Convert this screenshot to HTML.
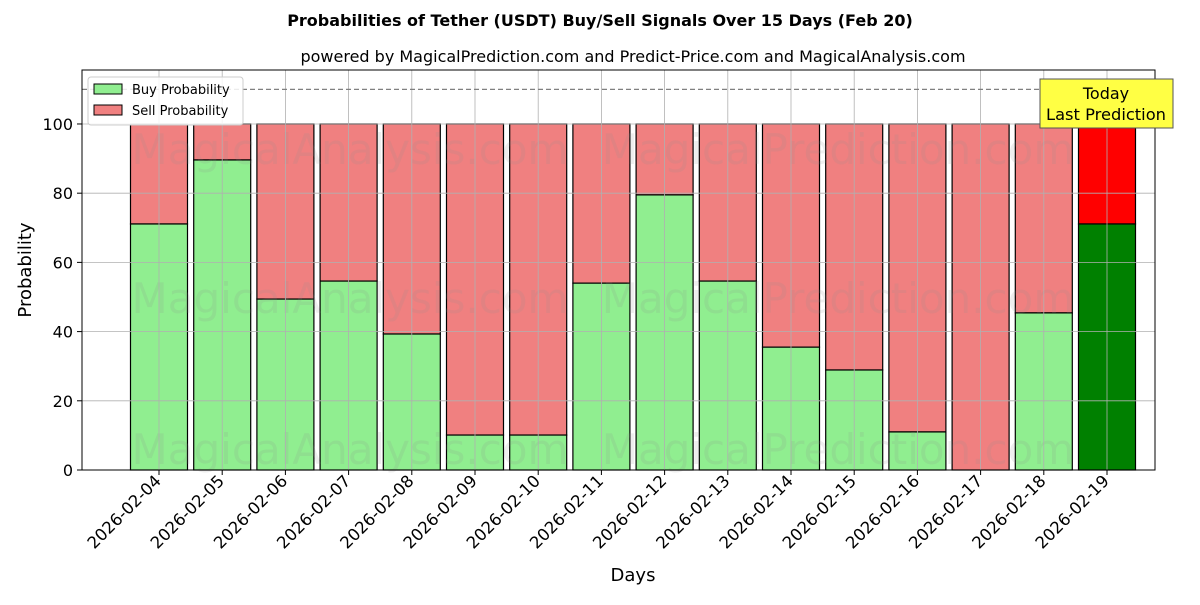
<!DOCTYPE html>
<html><head><meta charset="utf-8"><style>
body{margin:0;background:#fff;font-family:"Liberation Sans","DejaVu Sans",sans-serif;}
</style></head><body>
<svg id="chart" width="1200" height="600" xmlns="http://www.w3.org/2000/svg" font-family="DejaVu Sans, Liberation Sans, sans-serif">
<text x="600" y="26" text-anchor="middle" font-size="16" font-weight="bold">Probabilities of Tether (USDT) Buy/Sell Signals Over 15 Days (Feb 20)</text>
<text x="633" y="62" text-anchor="middle" font-size="16">powered by MagicalPrediction.com and Predict-Price.com and MagicalAnalysis.com</text>
<g id="plot"></g>
<text x="633" y="581" text-anchor="middle" font-size="18">Days</text>
<text transform="translate(31,270) rotate(-90)" text-anchor="middle" font-size="18">Probability</text>
</svg>
<script>
const categories=["2026-02-04","2026-02-05","2026-02-06","2026-02-07","2026-02-08","2026-02-09","2026-02-10","2026-02-11","2026-02-12","2026-02-13","2026-02-14","2026-02-15","2026-02-16","2026-02-17","2026-02-18","2026-02-19"];
const buyValues=[71.1,89.6,49.4,54.6,39.3,10.1,10.1,54.0,79.5,54.6,35.5,28.9,11.0,0,45.4,71.1];
const yTicks=[0,20,40,60,80,100];
const thresholdValue=110;
const NS="http://www.w3.org/2000/svg";
const L=82,R=1155,T=70,B=470;
const yMax=115.6;
const y=v=>B-v/yMax*(B-T);
const step=63.2, first=159, bw=57;
const x=i=>first+i*step;
const g=document.getElementById('plot');
function mk(tag,attrs,parent){const e=document.createElementNS(NS,tag);for(const k in attrs)e.setAttribute(k,attrs[k]);(parent||g).appendChild(e);return e;}
// bars
categories.forEach((c,i)=>{
 const last=i===categories.length-1;
 const b=buyValues[i];
 const s=mk('rect',{x:x(i)-bw/2,y:y(100),width:bw,height:y(b)-y(100),fill:last?'#ff0000':'#f08080',stroke:'#000','stroke-width':1.2});
 
 
 const r=mk('rect',{x:x(i)-bw/2,y:y(b),width:bw,height:y(0)-y(b),fill:last?'#008000':'#90ee90',stroke:'#000','stroke-width':1.2});
 
 
});
// watermarks
[[150,"MagicalAnalysis.com",350],[150,"MagicalPrediction.com",838],[299,"MagicalAnalysis.com",350],[299,"MagicalPrediction.com",838],[450,"MagicalAnalysis.com",350],[450,"MagicalPrediction.com",838]].forEach(w=>{
 const t=mk('text',{x:w[2],y:w[0]+14,'text-anchor':'middle','font-size':42,fill:'rgba(140,140,140,0.15)'});
 
 
 t.textContent=w[1];
});
// grid
yTicks.forEach(v=>{
 const l=mk('line',{x1:L,x2:R,y1:y(v),y2:y(v),stroke:'#b0b0b0','stroke-width':0.8});
 
 
 const tk=mk('line',{x1:L-5,x2:L,y1:y(v),y2:y(v),stroke:'#000'});
 
 
 const t=mk('text',{x:L-9,y:y(v)+6,'text-anchor':'end','font-size':16});
 
 
 t.textContent=v;
});
categories.forEach((c,i)=>{
 const l=mk('line',{x1:x(i),x2:x(i),y1:T,y2:B,stroke:'#b0b0b0','stroke-width':0.8});
 
 
 const tk=mk('line',{x1:x(i),x2:x(i),y1:B,y2:B+5,stroke:'#000'});
 
 
 const t=mk('text',{transform:`translate(${x(i)+3},${B+12}) rotate(-45)`,'text-anchor':'end','font-size':16.5});
 
 
 t.textContent=c;
});
const th=mk('line',{x1:L,x2:R,y1:y(thresholdValue),y2:y(thresholdValue),stroke:'#808080','stroke-width':1.2,'stroke-dasharray':'5,3'});


const fr=mk('rect',{x:L,y:T,width:R-L,height:B-T,fill:'none',stroke:'#000','stroke-width':1});


// today annotation
const ann=mk('g',{});


mk('rect',{x:1040,y:79,width:133,height:49,fill:'#ffff44',stroke:'#555','stroke-width':1},ann);
const a1=mk('text',{x:1106,y:99,'text-anchor':'middle','font-size':16},ann);a1.textContent='Today';
const a2=mk('text',{x:1106,y:120,'text-anchor':'middle','font-size':16,textLength:120,lengthAdjust:'spacingAndGlyphs'},ann);a2.textContent='Last Prediction';
// legend
const lg=mk('g',{});


mk('rect',{x:88,y:77,width:155,height:48,rx:3,fill:'rgba(255,255,255,0.85)',stroke:'#ccc'},lg);
mk('rect',{x:94,y:84,width:28,height:10,fill:'#90ee90',stroke:'#000'},lg);
mk('rect',{x:94,y:105,width:28,height:10,fill:'#f08080',stroke:'#000'},lg);
const l1=mk('text',{x:132,y:94,'font-size':13},lg);l1.textContent='Buy Probability';


const l2=mk('text',{x:132,y:115,'font-size':13},lg);l2.textContent='Sell Probability';


</script>
</body></html>
